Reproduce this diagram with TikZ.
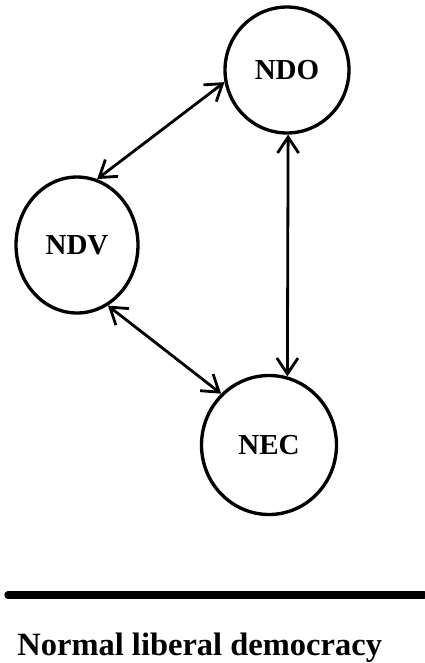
\documentclass[tikz,border=0pt]{standalone}
\usepackage{fontspec}
\setmainfont{Liberation Serif}
\usetikzlibrary{arrows.meta,shapes.geometric}
\begin{document}
\begin{tikzpicture}[x=0.02cm, y=-0.02cm, line join=round,
  state/.style={draw, ellipse, line width=1.9pt, inner sep=0pt, font=\fontsize{16.5}{18}\selectfont\bfseries},
  link/.style={<->, >={Straight Barb[length=9pt,width=12pt,line width=1.6pt]}, line width=1.6pt}]
\useasboundingbox (0,0) rectangle (424,663);
\node[state, minimum width=2.48cm, minimum height=2.52cm] (ndo) at (287,70)  {NDO};
\node[state, minimum width=2.44cm, minimum height=2.72cm] (ndv) at (77,245)  {NDV};
\node[state, minimum width=2.70cm, minimum height=2.78cm] (nec) at (269,445) {NEC};
\draw[link] (ndo.191) -- (ndv.73);
\draw[link] (ndv.297) -- (nec.133);
\draw[link] (ndo.271) -- (nec.75);
% baseline rule and caption
\coordinate (rulel) at (8,595);
\coordinate (ruler) at (424,595);
\draw[line width=4.2pt, line cap=round] (rulel) -- (ruler);
\node[anchor=base west, inner sep=0pt, font=\fontsize{18.5}{20}\selectfont\bfseries] (caption) at (17,655) {Normal liberal democracy};
\end{tikzpicture}
\end{document}
